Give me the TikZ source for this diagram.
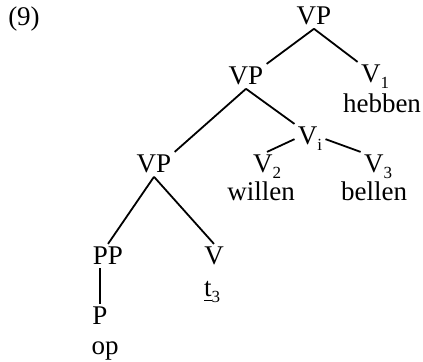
\documentclass[tikz,border=0pt]{standalone}
\usepackage{fontspec}
\setmainfont{Liberation Serif}
\newcommand\lowidx[1]{\raisebox{-3pt}{\fontsize{8.5}{9}\selectfont #1}}
\tikzstyle{branch}=[line width=0.9pt]
\tikzstyle{cat}=[inner sep=1.5pt, anchor=base]

\begin{document}
\begin{tikzpicture}[x=0.5pt, y=-0.5pt, font=\fontsize{13.5}{16}\selectfont]
  \useasboundingbox (0,0) rectangle (423,362);
  \node[cat] (ex) at (24,26) {(9)};
  \node[cat] (vp0) at (314,25) {VP};
  \node[cat] (vp1) at (246,85) {VP};
  \node[cat] (v1) at (375,83) {V\lowidx{1}};
  \node[cat] (hebben) at (382,113) {hebben};
  \node[cat] (vi) at (310,145) {V\lowidx{i}};
  \node[cat] (vp2) at (154,173) {VP};
  \node[cat] (v2) at (267,173) {V\lowidx{2}};
  \node[cat] (willen) at (261,201) {willen};
  \node[cat] (v3) at (378,173) {V\lowidx{3}};
  \node[cat] (bellen) at (374,201) {bellen};
  \node[cat] (pp) at (108,265) {PP};
  \node[cat] (v) at (214,265) {V};
  \node[cat] (trace) at (212,297) {\underline{t}\lowidx{3}};
  \node[cat] (p) at (100,325) {P};
  \node[cat] (op) at (105,355) {op};

  \draw[branch] (vp0.south) -- (vp1.north east);
  \draw[branch] (vp0.south) -- (v1.north west);
  \draw[branch] (vp1.south) -- (vp2.north east);
  \draw[branch] (vp1.south) -- (vi.north west);
  \draw[branch] (vi.west) -- (v2.north);
  \draw[branch] (vi.east) -- (v3.north west);
  \draw[branch] (vp2.south) -- (pp.north);
  \draw[branch] (vp2.south) -- (v.north);
  \draw[branch] (p.north |- pp.south) -- (p.north);
\end{tikzpicture}
\end{document}
